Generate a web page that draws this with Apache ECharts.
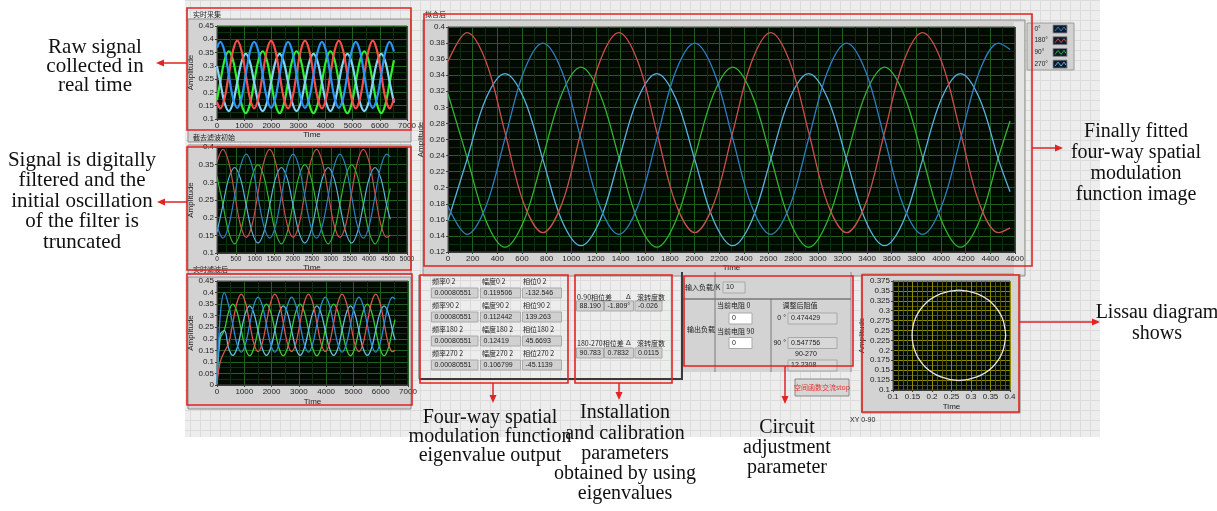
<!DOCTYPE html>
<html>
<head>
<meta charset="utf-8">
<script src="https://cdn.jsdelivr.net/npm/echarts@6/dist/echarts.min.js"></script>
<style>
  html, body { margin: 0; padding: 0; background: #fff; }
  #chart { width: 1217px; height: 511px; }
</style>
</head>
<body>
<div id="chart"></div>
<script>
// 拟合后 / 截去滤波初始 : fitted four-way signals
const fitTime = [0, 154, 308, 462, 616, 770, 924, 1078, 1232, 1386, 1540, 1694, 1848, 2002, 2156, 2310,
  2464, 2618, 2772, 2926, 3080, 3234, 3388, 3542, 3696, 3850, 4004, 4158, 4312, 4466, 4560];
const fit0 = [0.177, 0.142, 0.177, 0.261, 0.345, 0.380, 0.345, 0.261,
  0.177, 0.142, 0.177, 0.261, 0.345, 0.380, 0.345, 0.261,
  0.177, 0.142, 0.177, 0.261, 0.345, 0.380, 0.345, 0.261,
  0.177, 0.142, 0.177, 0.261, 0.345, 0.380, 0.372];
const fit180 = [0.357, 0.393, 0.357, 0.269, 0.180, 0.144, 0.180, 0.269,
  0.357, 0.393, 0.357, 0.269, 0.180, 0.144, 0.180, 0.269,
  0.357, 0.393, 0.357, 0.269, 0.180, 0.144, 0.180, 0.269,
  0.357, 0.393, 0.357, 0.269, 0.180, 0.144, 0.150];
const fit90 = [0.317, 0.238, 0.159, 0.126, 0.159, 0.238, 0.317, 0.350,
  0.317, 0.238, 0.159, 0.126, 0.159, 0.238, 0.317, 0.350,
  0.317, 0.238, 0.159, 0.126, 0.159, 0.238, 0.317, 0.350,
  0.317, 0.238, 0.159, 0.126, 0.159, 0.238, 0.283];
const fit270 = [0.159, 0.235, 0.311, 0.342, 0.311, 0.235, 0.159, 0.128,
  0.159, 0.235, 0.311, 0.342, 0.311, 0.235, 0.159, 0.128,
  0.159, 0.235, 0.311, 0.342, 0.311, 0.235, 0.159, 0.128,
  0.159, 0.235, 0.311, 0.342, 0.311, 0.235, 0.195];

// 实时采集 : raw signals
const rawTime = [0, 122, 278, 434, 590, 746, 902, 1058, 1214, 1370, 1526, 1682, 1838, 1994, 2150, 2306,
  2462, 2618, 2774, 2930, 3086, 3242, 3398, 3554, 3710, 3866, 4022, 4178, 4334, 4490, 4646, 4802,
  4958, 5114, 5270, 5426, 5582, 5738, 5894, 6050, 6206, 6362, 6518];
const raw0 = [0.368,
  0.390, 0.354, 0.266, 0.178, 0.142, 0.178, 0.266, 0.354,
  0.390, 0.354, 0.266, 0.178, 0.142, 0.178, 0.266, 0.354,
  0.390, 0.354, 0.266, 0.178, 0.142, 0.178, 0.266, 0.354,
  0.390, 0.354, 0.266, 0.178, 0.142, 0.178, 0.266, 0.354,
  0.390, 0.354, 0.266, 0.178, 0.142, 0.178, 0.266, 0.354,
  0.390, 0.354];
const raw180 = [0.163,
  0.140, 0.178, 0.268, 0.358, 0.395, 0.358, 0.268, 0.178,
  0.140, 0.178, 0.268, 0.358, 0.395, 0.358, 0.268, 0.178,
  0.140, 0.178, 0.268, 0.358, 0.395, 0.358, 0.268, 0.178,
  0.140, 0.178, 0.268, 0.358, 0.395, 0.358, 0.268, 0.178,
  0.140, 0.178, 0.268, 0.358, 0.395, 0.358, 0.268, 0.178,
  0.140, 0.178];
const raw90 = [0.172,
  0.239, 0.321, 0.355, 0.321, 0.239, 0.156, 0.122, 0.156,
  0.239, 0.321, 0.355, 0.321, 0.239, 0.156, 0.122, 0.156,
  0.239, 0.321, 0.355, 0.321, 0.239, 0.156, 0.122, 0.156,
  0.239, 0.321, 0.355, 0.321, 0.239, 0.156, 0.122, 0.156,
  0.239, 0.321, 0.355, 0.321, 0.239, 0.156, 0.122, 0.156,
  0.239, 0.321];
const raw270 = [0.299,
  0.238, 0.161, 0.130, 0.161, 0.238, 0.314, 0.345, 0.314,
  0.238, 0.161, 0.130, 0.161, 0.238, 0.314, 0.345, 0.314,
  0.238, 0.161, 0.130, 0.161, 0.238, 0.314, 0.345, 0.314,
  0.238, 0.161, 0.130, 0.161, 0.238, 0.314, 0.345, 0.314,
  0.238, 0.161, 0.130, 0.161, 0.238, 0.314, 0.345, 0.314,
  0.238, 0.161];

// 实时滤波后 : filtered signals incl. filter start-up
const filtTime = [0, 118, 272, 426, 580, 734, 888, 1042, 1196, 1350, 1504, 1658, 1812,
  1966, 2120, 2274, 2428, 2582, 2736, 2890, 3044, 3198, 3352, 3506, 3660, 3814, 3968, 4122,
  4276, 4430, 4584, 4738, 4892, 5046, 5200, 5354, 5508, 5662, 5816, 5970, 6124, 6278, 6432, 6526];
const filt0 = [0.005, 0.300, 0.400, 0.345, 0.261, 0.177, 0.142, 0.177, 0.261, 0.345, 0.380, 0.345, 0.261,
  0.177, 0.142, 0.177, 0.261, 0.345, 0.380, 0.345, 0.261,
  0.177, 0.142, 0.177, 0.261, 0.345, 0.380, 0.345, 0.261,
  0.177, 0.142, 0.177, 0.261, 0.345, 0.380, 0.345, 0.261,
  0.177, 0.142, 0.177, 0.261, 0.345, 0.380, 0.372];
const filt180 = [0.005, 0.100, 0.144, 0.180, 0.269, 0.357, 0.393, 0.357, 0.269, 0.180, 0.144, 0.180, 0.269,
  0.357, 0.393, 0.357, 0.269, 0.180, 0.144, 0.180, 0.269,
  0.357, 0.393, 0.357, 0.269, 0.180, 0.144, 0.180, 0.269,
  0.357, 0.393, 0.357, 0.269, 0.180, 0.144, 0.180, 0.269,
  0.357, 0.393, 0.357, 0.269, 0.180, 0.144, 0.150];
const filt90 = [0.005, 0.200, 0.238, 0.317, 0.350, 0.317, 0.238, 0.159, 0.126, 0.159, 0.238, 0.317, 0.350,
  0.317, 0.238, 0.159, 0.126, 0.159, 0.238, 0.317, 0.350,
  0.317, 0.238, 0.159, 0.126, 0.159, 0.238, 0.317, 0.350,
  0.317, 0.238, 0.159, 0.126, 0.159, 0.238, 0.317, 0.350,
  0.317, 0.238, 0.159, 0.126, 0.159, 0.238, 0.283];
const filt270 = [0.005, 0.220, 0.235, 0.159, 0.128, 0.159, 0.235, 0.311, 0.342, 0.311, 0.235, 0.159, 0.128,
  0.159, 0.235, 0.311, 0.342, 0.311, 0.235, 0.159, 0.128,
  0.159, 0.235, 0.311, 0.342, 0.311, 0.235, 0.159, 0.128,
  0.159, 0.235, 0.311, 0.342, 0.311, 0.235, 0.159, 0.128,
  0.159, 0.235, 0.311, 0.342, 0.311, 0.235, 0.195];

// XY 0-90 (Lissajous)
const xyX = [0.389, 0.380, 0.354, 0.315, 0.269, 0.223, 0.184, 0.158, 0.149, 0.158, 0.184, 0.223, 0.269, 0.315, 0.354, 0.380, 0.389];
const xyY = [0.238, 0.282, 0.319, 0.343, 0.352, 0.343, 0.319, 0.282, 0.238, 0.194, 0.157, 0.133, 0.124, 0.133, 0.157, 0.194, 0.238];

// indicator values
const channels = ['0', '90', '180', '270'];
const freqVals = ['0.00080551', '0.00080551', '0.00080551', '0.00080551'];
const ampVals = ['0.119506', '0.112442', '0.12419', '0.106799'];
const phaseVals = ['-132.546', '139.263', '45.6693', '-45.1139'];
const pairNames = ['0-90相位差', '180-270相位差'];
const phaseDiff = ['88.1904', '90.7832'];
const deltaVals = ['-1.809°', '0.7832°'];
const rollVals = ['-0.026°', '0.0115°'];
const loadIn = '10';
const resNow = ['0', '0'];
const resAdj = ['0.474429', '0.547756', '12.2308'];
const legendNames = ['0°', '180°', '90°', '270°'];

const pair = (ts, vs) => ts.map((t, i) => [t, vs[i]]);
const intLabel = (v) => String(v);

const GREEN = ['#1f5f1f', '#0d300d'];
const YELLOW = ['#8c8c00', '#575700'];

function axis(grid, min, max, step, name, gap, minor, colors, fmt, fs) {
  return {
    type: 'value', gridIndex: grid, min: min, max: max, interval: step,
    name: name, nameLocation: 'middle', nameGap: gap,
    nameTextStyle: { fontSize: 8, color: '#222', fontFamily: 'Liberation Sans' },
    axisLine: { show: true, lineStyle: { color: '#3c3c3c' } },
    axisTick: { show: true, length: 2, lineStyle: { color: '#3c3c3c' } },
    axisLabel: { fontSize: fs || 8, color: '#1e1e1e', margin: 3, fontFamily: 'Liberation Sans', formatter: fmt },
    splitLine: { show: true, lineStyle: { color: colors[0], width: 1 } },
    minorTick: { show: false, splitNumber: minor },
    minorSplitLine: { show: true, lineStyle: { color: colors[1], width: 1 } }
  };
}

function lineSeries(idx, time, vals, color, width, name) {
  return {
    type: 'line', name: name, xAxisIndex: idx, yAxisIndex: idx,
    data: pair(time, vals), symbol: 'none', showSymbol: false, smooth: 0.35,
    lineStyle: { color: color, width: width }, itemStyle: { color: color },
    silent: true, z: 3
  };
}

const rawColors = ['#2a94ff', '#ff4b4b', '#2ef02e', '#86d2f8'];
const fitColors = ['#2e7fc0', '#c9504c', '#32b432', '#5ab2de'];
const filtColors = ['#2c8ad8', '#e05252', '#35cc35', '#64bee8'];

// ---------- panel decoration ----------
const tile = document.createElement('canvas');
tile.width = 10; tile.height = 10;
const tc = tile.getContext('2d');
tc.fillStyle = '#ededed'; tc.fillRect(0, 0, 10, 10);
tc.fillStyle = '#dbdbdb'; tc.fillRect(0, 0, 10, 1); tc.fillRect(0, 0, 1, 10);

const g = [];
function rect(x, y, w, h, style, z) {
  g.push({ type: 'rect', shape: { x: x, y: y, width: w, height: h }, style: style, z: z === undefined ? -5 : z, silent: true });
}
function seg(x1, y1, x2, y2, stroke, w, z) {
  g.push({ type: 'line', shape: { x1: x1, y1: y1, x2: x2, y2: y2 }, style: { stroke: stroke, lineWidth: w }, z: z === undefined ? 10 : z, silent: true });
}
function poly(points, fill, z) {
  g.push({ type: 'polygon', shape: { points: points }, style: { fill: fill }, z: z === undefined ? 60 : z, silent: true });
}
function label(x, y, str, opts, z) {
  const o = opts || {};
  g.push({
    type: 'text', x: x, y: y, z: z === undefined ? 20 : z, silent: true,
    style: {
      text: str, fontSize: o.size || 7, fontFamily: o.font || 'Noto Sans CJK SC',
      fill: o.color || '#222', align: o.align || 'left', textAlign: o.align || 'left',
      verticalAlign: o.va || 'middle', textVerticalAlign: o.va || 'middle',
      lineHeight: o.lh, width: o.width, overflow: o.width ? 'truncate' : undefined, ellipsis: ''
    }
  });
}
function box(x, y, w, h, str, fill) {
  rect(x, y, w, h, { fill: fill || '#d0d0d0', stroke: '#a9a9a9', lineWidth: 1 }, 5);
  label(x + 3, y + h / 2, str, { size: 7, font: 'Liberation Sans', width: w - 4 });
}

// front panel background
rect(185, 0, 915, 437, { fill: { image: tile, repeat: 'repeat' } }, -10);

// chart frames
const frameStyle = { fill: '#d3d3d3', stroke: '#8e8e8e', lineWidth: 1 };
rect(188, 19, 223, 123, frameStyle);
rect(188, 145, 223, 129, frameStyle);
rect(188, 277, 223, 132, frameStyle);
rect(423, 20, 602, 256, frameStyle);
rect(1014, 22, 10, 252, { fill: '#e4e4e4' }, -4);
rect(862, 274, 158, 139, frameStyle);

label(193, 14, '实时采集');
label(193, 137, '截去滤波初始');
label(193, 269, '实时滤波后');
label(425, 14, '拟合后');
label(850, 420, 'XY 0-90', { font: 'Liberation Sans' });

// legend of fitted chart
rect(1027, 23, 47, 47, { fill: '#d2d2d2', stroke: '#9c9c9c', lineWidth: 1 }, 5);
legendNames.forEach((nm, i) => {
  const y0 = 25 + i * 11.7;
  label(1034.5, y0 + 4, nm, { size: 6.5, font: 'Liberation Sans' }, 70);
  rect(1053, y0, 14, 8, { fill: '#0f1a2c', stroke: '#8a8a8a', lineWidth: 0.8 }, 6);
  g.push({ type: 'polyline', z: 7, silent: true,
    shape: { points: [[1055, y0 + 6], [1058, y0 + 2], [1061, y0 + 6], [1064, y0 + 2], [1066, y0 + 5]] },
    style: { stroke: fitColors[i === 0 ? 0 : i === 1 ? 1 : i === 2 ? 2 : 3], lineWidth: 1, fill: null } });
});

// eigenvalue table
seg(419, 275, 419, 379, '#5a5a5a', 1, 4);
seg(419, 379, 683, 379, '#3a3a3a', 2, 4);
channels.forEach((ch, r) => {
  const ly = 281.5 + r * 24.1;
  const by = 288 + r * 24;
  label(432, ly, '频率' + ch + ' 2');
  label(482, ly, '幅度' + ch + ' 2');
  label(523, ly, '相位' + ch + ' 2');
  box(431.5, by, 46.5, 10, freqVals[r]);
  box(480.5, by, 40, 10, ampVals[r]);
  box(522.5, by, 39, 10, phaseVals[r]);
});
pairNames.forEach((nm, r) => {
  const ly = r === 0 ? 297 : 343;
  const by = r === 0 ? 301 : 348;
  label(577, ly, nm);
  label(626, ly, 'Δ', { font: 'Liberation Sans' });
  label(637, ly, '滚转度数');
  box(576.5, by, 27, 10, phaseDiff[r]);
  box(604.5, by, 29, 10, deltaVals[r]);
  box(635, by, 27, 10, rollVals[r]);
});

// circuit adjustment panel
rect(683, 272, 168, 100, { fill: '#d3d3d3' }, -4);
seg(682, 272, 682, 379, '#3a3a3a', 2, 4);
seg(683, 299, 851, 299, '#4a4a4a', 1, 4);
seg(715, 272, 715, 372, '#7a7a7a', 1, 4);
seg(771, 299, 771, 372, '#7a7a7a', 1, 4);
seg(851, 272, 851, 372, '#8a8a8a', 1, 4);
label(685, 287, '输入负载/K');
box(723, 282, 22, 11, loadIn, '#d8d8d8');
label(687, 329, '输出负载');
label(717, 305, '当前电阻 0');
box(729, 313, 23, 11, resNow[0], '#ffffff');
label(717, 331, '当前电阻 90');
box(729, 337.5, 23, 11, resNow[1], '#ffffff');
label(800, 305, '调整后阻值', { align: 'center' });
label(786, 318, '0 °', { align: 'right', font: 'Liberation Sans' });
box(788, 313, 49, 11, resAdj[0], '#d8d8d8');
label(786, 343, '90 °', { align: 'right', font: 'Liberation Sans' });
box(788, 337.5, 49, 11, resAdj[1], '#d8d8d8');
label(795, 354, '90-270', { font: 'Liberation Sans' });
box(788, 360, 49, 11, resAdj[2], '#d8d8d8');
rect(795, 379, 54, 17, { fill: '#d6d6d6', stroke: '#8a8a8a', lineWidth: 1 }, 5);
label(822, 387.5, '空间函数交流stop', { align: 'center', color: '#e23030' });

// red annotation boxes
const RED = '#e32222';
[[187, 8, 224, 122], [187, 147, 224, 123], [187, 274, 225, 131], [424, 14, 608, 252],
 [420, 275, 148, 108], [575, 275, 97, 108], [684, 276, 169, 90], [862, 275, 157, 137]]
  .forEach(b => rect(b[0], b[1], b[2], b[3], { fill: null, stroke: RED, lineWidth: 1.6 }, 50));

// arrows
function arrow(x1, y1, x2, y2) {
  seg(x1, y1, x2, y2, RED, 1.5, 55);
  const dx = x2 - x1, dy = y2 - y1, len = Math.hypot(dx, dy);
  const ux = dx / len, uy = dy / len;
  const tipX = x2 + ux * 6, tipY = y2 + uy * 6;
  poly([[tipX, tipY], [x2 - uy * 3.5 - ux * 2, y2 + ux * 3.5 - uy * 2], [x2 + uy * 3.5 - ux * 2, y2 - ux * 3.5 - uy * 2]], RED);
}
arrow(187, 63, 162, 63);
arrow(187, 202, 163, 202);
arrow(1032, 148, 1057, 148);
arrow(1019, 322, 1094, 322);
arrow(493, 383, 493, 397);
arrow(619, 383, 619, 394);
arrow(785, 366, 785, 398);

// annotations
const serif = { font: 'Liberation Serif', size: 20, color: '#111', align: 'center' };
label(95, 66, 'Raw signal\ncollected in\nreal time', Object.assign({}, serif, { size: 21, lh: 19 }));
label(82, 201, 'Signal is digitally\nfiltered and the\ninitial oscillation\nof the filter is\ntruncated', Object.assign({}, serif, { size: 21, lh: 20.5 }));
label(1136, 163.5, 'Finally fitted\nfour-way spatial\nmodulation\nfunction image', Object.assign({}, serif, { lh: 21 }));
label(1157, 323.5, 'Lissau diagram\nshows', Object.assign({}, serif, { lh: 21 }));
label(490, 437, 'Four-way spatial\nmodulation function\neigenvalue output', Object.assign({}, serif, { lh: 19 }));
label(625, 453.5, 'Installation\nand calibration\nparameters\nobtained by using\neigenvalues', Object.assign({}, serif, { lh: 20.25 }));
label(787, 448, 'Circuit\nadjustment\nparameter', Object.assign({}, serif, { lh: 20 }));

// ---------- charts ----------
const plotBg = '#000a00';
const grids = [
  { left: 217, top: 26, width: 190, height: 93 },
  { left: 217, top: 147, width: 190, height: 106 },
  { left: 217, top: 281, width: 191, height: 104 },
  { left: 448, top: 27, width: 567, height: 225 },
  { left: 893, top: 281, width: 117, height: 109 }
].map(gr => Object.assign({ show: true, backgroundColor: plotBg, borderColor: '#4a4a4a', borderWidth: 1, outerBoundsMode: 'none', z: 0 }, gr));

const xAxes = [
  axis(0, 0, 7000, 1000, 'Time', 11, 2, GREEN, intLabel),
  axis(1, 0, 5000, 500, 'Time', 11, 2, GREEN, intLabel, 6.5),
  axis(2, 0, 7000, 1000, 'Time', 13, 2, GREEN, intLabel),
  axis(3, 0, 4600, 200, 'Time', 12, 2, GREEN, intLabel),
  axis(4, 0.1, 0.4, 0.05, 'Time', 13, 4, YELLOW)
];
const yAxes = [
  axis(0, 0.1, 0.45, 0.05, 'Amplitude', 21, 2, GREEN),
  axis(1, 0.1, 0.4, 0.05, 'Amplitude', 21, 2, GREEN),
  axis(2, 0, 0.45, 0.05, 'Amplitude', 21, 2, GREEN),
  axis(3, 0.12, 0.4, 0.02, 'Amplitude', 23, 2, GREEN),
  axis(4, 0.1, 0.375, 0.025, 'Amplitude', 24, 2, YELLOW)
];

const series = [
  lineSeries(0, rawTime, raw90, rawColors[2], 2.2, '90°'),
  lineSeries(0, rawTime, raw270, rawColors[3], 2.2, '270°'),
  lineSeries(0, rawTime, raw180, rawColors[1], 2.2, '180°'),
  lineSeries(0, rawTime, raw0, rawColors[0], 2.2, '0°'),
  lineSeries(1, fitTime, fit90, fitColors[2], 1.2, '90°'),
  lineSeries(1, fitTime, fit270, fitColors[3], 1.2, '270°'),
  lineSeries(1, fitTime, fit180, fitColors[1], 1.2, '180°'),
  lineSeries(1, fitTime, fit0, fitColors[0], 1.2, '0°'),
  lineSeries(2, filtTime, filt90, filtColors[2], 1.3, '90°'),
  lineSeries(2, filtTime, filt270, filtColors[3], 1.3, '270°'),
  lineSeries(2, filtTime, filt180, filtColors[1], 1.3, '180°'),
  lineSeries(2, filtTime, filt0, filtColors[0], 1.3, '0°'),
  lineSeries(3, fitTime, fit90, fitColors[2], 1.3, '90°'),
  lineSeries(3, fitTime, fit270, fitColors[3], 1.3, '270°'),
  lineSeries(3, fitTime, fit180, fitColors[1], 1.3, '180°'),
  lineSeries(3, fitTime, fit0, fitColors[0], 1.3, '0°'),
  lineSeries(4, xyX, xyY, '#e4e4e4', 1.3, 'XY 0-90')
];

const chart = echarts.init(document.getElementById('chart'));
chart.setOption({
  animation: false,
  backgroundColor: '#ffffff',
  textStyle: { fontFamily: 'Liberation Sans' },
  grid: grids,
  xAxis: xAxes,
  yAxis: yAxes,
  series: series,
  graphic: { elements: g }
});
</script>
</body>
</html>
